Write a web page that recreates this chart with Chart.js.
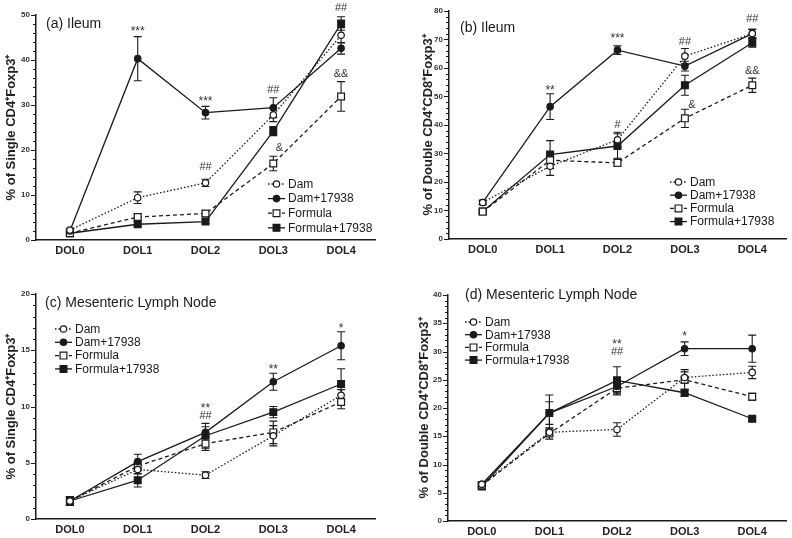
<!DOCTYPE html>
<html>
<head>
<meta charset="utf-8">
<script src="https://cdn.jsdelivr.net/npm/chart.js@4.4.0/dist/chart.umd.min.js"></script>
<style>
  body { margin: 0; background: #fff; }
  #wrap { position: relative; width: 792px; height: 538px; }
  canvas { position: absolute; }
</style>
</head>
<body>
<div id="wrap">
  <canvas id="panelA" width="396" height="260" style="left:0;top:0"></canvas>
  <canvas id="panelB" width="396" height="260" style="left:396px;top:0"></canvas>
  <canvas id="panelC" width="396" height="278" style="left:0;top:260px"></canvas>
  <canvas id="panelD" width="396" height="278" style="left:396px;top:260px"></canvas>
</div>
<script>
const days = ['DOL0', 'DOL1', 'DOL2', 'DOL3', 'DOL4'];
const groups = ['Dam', 'Dam+17938', 'Formula', 'Formula+17938'];

// (a) Ileum, single CD4+Foxp3+
const aDam = [2.2, 9.4, 12.7, 27.8, 45.5];
const aDamErr = [0.4, 1.3, 0.8, 1.5, 1.7];
const aDamLp = [2.0, 40.3, 28.3, 29.4, 42.6];
const aDamLpErr = [0.4, 4.9, 1.4, 2.2, 1.3];
const aFormula = [1.5, 5.1, 5.9, 17.0, 31.9];
const aFormulaErr = [0.3, 0.6, 0.6, 1.6, 3.3];
const aFormulaLp = [1.5, 3.5, 4.1, 24.2, 48.1];
const aFormulaLpErr = [0.5, 0.5, 0.5, 1.0, 1.5];
const aMarks = [['***', 1, 47.0, 0], ['***', 2, 31.3, 0], ['##', 2, 16.3, 0], ['##', 3, 33.3, 0],
                ['&', 3, 20.4, 6], ['##', 4, 51.5, 0], ['&&', 4, 36.9, 0]];

// (b) Ileum, double CD4+CD8+Foxp3+
const bDam = [12.8, 25.5, 34.8, 64.1, 72.0];
const bDamErr = [0.8, 3.2, 2.6, 2.7, 1.5];
const bDamLp = [12.8, 46.4, 66.2, 60.6, 72.0];
const bDamLpErr = [0.8, 4.5, 1.5, 1.7, 1.5];
const bFormula = [9.6, 27.6, 26.7, 42.3, 53.9];
const bFormulaErr = [0.5, 2.9, 1.2, 3.2, 2.5];
const bFormulaLp = [9.6, 29.6, 32.6, 53.9, 68.8];
const bFormulaLpErr = [0.5, 4.9, 4.3, 3.5, 1.6];
const bMarks = [['**', 1, 53.2, 0], ['***', 2, 71.3, 0], ['#', 2, 40.0, 0], ['##', 3, 69.2, 0],
                ['&', 3, 47.0, 7], ['##', 4, 77.2, 0], ['&&', 4, 58.8, 0]];

// (c) Mesenteric lymph node, single CD4+Foxp3+
const cDam = [1.6, 4.4, 3.9, 7.4, 11.0];
const cDamErr = [0.4, 0.4, 0.3, 0.9, 0.5];
const cDamLp = [1.6, 5.1, 7.7, 12.2, 15.4];
const cDamLpErr = [0.4, 0.65, 0.5, 0.75, 1.25];
const cFormula = [1.6, 4.7, 6.7, 7.7, 10.4];
const cFormulaErr = [0.4, 0.4, 0.6, 1.0, 0.6];
const cFormulaLp = [1.6, 3.45, 7.4, 9.5, 12.0];
const cFormulaLpErr = [0.4, 0.6, 1.1, 0.5, 1.35];
const cMarks = [['**', 2, 10.1, 0], ['##', 2, 9.2, 0], ['**', 3, 13.5, 0], ['*', 4, 17.2, 0]];

// (d) Mesenteric lymph node, double CD4+CD8+Foxp3+
const dDam = [6.5, 15.7, 16.2, 25.4, 26.3];
const dDamErr = [0.4, 0.6, 1.2, 1.0, 1.1];
const dDamLp = [6.5, 19.1, 23.8, 30.5, 30.5];
const dDamLpErr = [0.4, 3.2, 1.0, 1.2, 2.4];
const dFormula = [6.3, 15.5, 23.5, 25.0, 22.0];
const dFormulaErr = [0.4, 1.0, 1.2, 1.8, 0.6];
const dFormulaLp = [6.1, 19.1, 24.9, 22.7, 18.1];
const dFormulaLpErr = [0.4, 2.0, 2.4, 0.6, 0.3];
const dMarks = [['**', 2, 31.7, 0], ['##', 2, 29.9, 0], ['*', 3, 33.1, 0]];

const FONT = "'Liberation Sans', Arial, sans-serif";
const INK = '#1a1a1a';

// line + symbol look for each group
const looks = [
  { dash: [1.5, 2], shape: 'circle', fill: '#fff', r: 3.2 },
  { dash: [], shape: 'circle', fill: INK, r: 3.2 },
  { dash: [4, 3], shape: 'rect', fill: '#fff', r: 4.8 },
  { dash: [], shape: 'rect', fill: INK, r: 4.8 }
];

function drawSymbol(ctx, look, x, y) {
  ctx.save();
  ctx.setLineDash([]);
  ctx.lineWidth = 1.2;
  ctx.strokeStyle = INK;
  ctx.fillStyle = look.fill;
  ctx.beginPath();
  if (look.shape === 'circle') {
    ctx.arc(x, y, look.r, 0, Math.PI * 2);
  } else {
    const h = look.r * Math.SQRT1_2;
    ctx.rect(x - h, y - h, 2 * h, 2 * h);
  }
  ctx.fill();
  ctx.stroke();
  ctx.restore();
}

// error bars, y-axis minor ticks, panel title, legend and significance marks
function extras(o) {
  return {
    id: 'extras',
    beforeDatasetsDraw(chart) {
      const ctx = chart.ctx;
      const ys = chart.scales.y;
      ctx.save();
      ctx.strokeStyle = INK;
      ctx.lineWidth = 1.1;
      chart.data.datasets.forEach((ds, i) => {
        chart.getDatasetMeta(i).data.forEach((pt, j) => {
          const e = ds.errors[j];
          const top = ys.getPixelForValue(ds.data[j] + e);
          const bot = ys.getPixelForValue(ds.data[j] - e);
          ctx.beginPath();
          ctx.moveTo(pt.x, top); ctx.lineTo(pt.x, bot);
          ctx.moveTo(pt.x - 4, top); ctx.lineTo(pt.x + 4, top);
          ctx.moveTo(pt.x - 4, bot); ctx.lineTo(pt.x + 4, bot);
          ctx.stroke();
        });
      });
      ctx.restore();
    },
    afterDraw(chart) {
      const ctx = chart.ctx;
      const ys = chart.scales.y;
      const xs = chart.scales.x;
      const ax = chart.chartArea.left;
      ctx.save();
      // y ticks
      ctx.strokeStyle = INK;
      ctx.lineWidth = 1;
      for (let v = 0; v <= o.yMax + 1e-9; v += o.minor) {
        const y = Math.round(ys.getPixelForValue(v)) + 0.5;
        const len = Math.abs(v / o.major - Math.round(v / o.major)) < 1e-6 ? 5 : 3;
        ctx.beginPath();
        ctx.moveTo(ax - len, y); ctx.lineTo(ax, y);
        ctx.stroke();
      }
      // panel title
      ctx.fillStyle = INK;
      ctx.font = '14px ' + FONT;
      ctx.textBaseline = 'middle';
      ctx.textAlign = 'left';
      ctx.fillText(o.title, o.titleAt[0], o.titleAt[1]);
      // legend
      ctx.font = '12px ' + FONT;
      groups.forEach((g, i) => {
        const y = o.legend.y + i * o.legend.dy;
        const x = o.legend.x;
        ctx.save();
        ctx.strokeStyle = INK;
        ctx.lineWidth = 1.3;
        ctx.setLineDash(looks[i].dash);
        ctx.beginPath();
        ctx.moveTo(x, y); ctx.lineTo(x + 17, y);
        ctx.stroke();
        ctx.restore();
        drawSymbol(ctx, looks[i], x + 8.5, y);
        ctx.fillStyle = INK;
        ctx.fillText(g, x + 20, y + 0.5);
      });
      // significance marks
      ctx.textAlign = 'center';
      o.marks.forEach(m => {
        const star = m[0].includes('*');
        ctx.font = (star ? '12px ' : '11px ') + FONT;
        ctx.fillStyle = '#333';
        ctx.fillText(m[0], xs.getPixelForValue(m[1]) + m[3], ys.getPixelForValue(m[2]) + (star ? 3 : 0));
      });
      ctx.restore();
    }
  };
}

function makePanel(id, o) {
  const datasets = groups.map((g, i) => ({
    label: g,
    data: o.values[i],
    errors: o.errors[i],
    borderColor: INK,
    borderWidth: 1.3,
    borderDash: looks[i].dash,
    pointStyle: looks[i].shape,
    pointRadius: looks[i].r,
    pointBackgroundColor: looks[i].fill,
    pointBorderColor: INK,
    pointBorderWidth: 1.2,
    fill: false,
    tension: 0,
    clip: false
  }));
  return new Chart(document.getElementById(id), {
    type: 'line',
    data: { labels: days, datasets },
    options: {
      responsive: false,
      animation: false,
      layout: { padding: { top: o.area.top, right: o.area.right, left: 0, bottom: 0 } },
      plugins: { legend: { display: false }, tooltip: { enabled: false } },
      scales: {
        x: {
          offset: true,
          grid: { display: false, drawTicks: false },
          border: { color: INK, width: 1.5 },
          ticks: { font: { family: FONT, size: 11, weight: 'bold' }, color: '#222', padding: 4, maxRotation: 0 },
          afterFit: s => { s.height = o.area.xh; }
        },
        y: {
          min: 0,
          max: o.yMax,
          grid: { display: false, drawTicks: false },
          border: { color: INK, width: 1.5 },
          ticks: {
            stepSize: o.minor,
            autoSkip: false,
            font: { family: FONT, size: 8, weight: 'bold' },
            color: '#333',
            padding: 6,
            callback: v => (Math.abs(v / o.major - Math.round(v / o.major)) < 1e-6 ? v : '')
          },
          title: {
            display: true,
            text: o.yTitle,
            font: { family: FONT, size: 13, weight: 'bold' },
            color: '#222',
            padding: { top: o.titlePad, bottom: 0 }
          },
          afterFit: s => { s.width = o.area.left; }
        }
      }
    },
    plugins: [extras(o)]
  });
}

makePanel('panelA', {
  values: [aDam, aDamLp, aFormula, aFormulaLp],
  errors: [aDamErr, aDamLpErr, aFormulaErr, aFormulaLpErr],
  marks: aMarks,
  yMax: 50, major: 10, minor: 2,
  yTitle: '% of Single CD4\u207AFoxp3\u207A',
  titlePad: 4,
  title: '(a) Ileum', titleAt: [46, 24],
  legend: { x: 268, y: 184, dy: 14.6 },
  area: { top: 15, right: 21, left: 36, xh: 20 }
});

makePanel('panelB', {
  values: [bDam, bDamLp, bFormula, bFormulaLp],
  errors: [bDamErr, bDamLpErr, bFormulaErr, bFormulaLpErr],
  marks: bMarks,
  yMax: 80, major: 10, minor: 2,
  yTitle: '% of Double CD4\u207ACD8\u207AFoxp3\u207A',
  titlePad: 25,
  title: '(b) Ileum', titleAt: [64, 28],
  legend: { x: 274, y: 182, dy: 13.2 },
  area: { top: 9, right: 5, left: 53, xh: 21 }
});

makePanel('panelC', {
  values: [cDam, cDamLp, cFormula, cFormulaLp],
  errors: [cDamErr, cDamLpErr, cFormulaErr, cFormulaLpErr],
  marks: cMarks,
  yMax: 20, major: 5, minor: 1,
  yTitle: '% of Single CD4\u207AFoxp3\u207A',
  titlePad: 4,
  title: '(c) Mesenteric Lymph Node', titleAt: [45, 43],
  legend: { x: 55, y: 69, dy: 13.3 },
  area: { top: 34, right: 21, left: 36, xh: 19 }
});

makePanel('panelD', {
  values: [dDam, dDamLp, dFormula, dFormulaLp],
  errors: [dDamErr, dDamLpErr, dFormulaErr, dFormulaLpErr],
  marks: dMarks,
  yMax: 40, major: 5, minor: 1,
  yTitle: '% of Double CD4\u207ACD8\u207AFoxp3\u207A',
  titlePad: 21,
  title: '(d) Mesenteric Lymph Node', titleAt: [69, 35],
  legend: { x: 69, y: 62, dy: 12.7 },
  area: { top: 35, right: 5, left: 52, xh: 17 }
});
</script>
</body>
</html>
